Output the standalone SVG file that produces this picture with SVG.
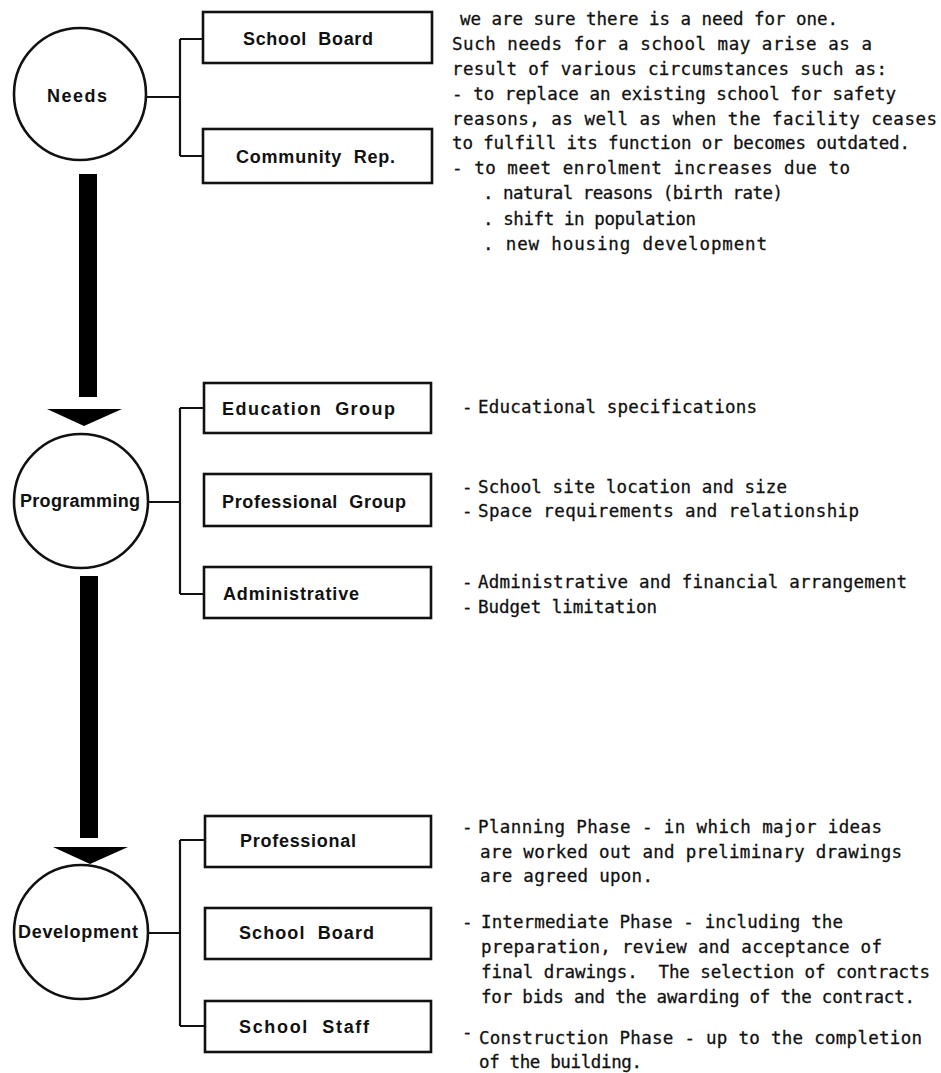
<svg xmlns="http://www.w3.org/2000/svg" width="941" height="1073" viewBox="0 0 941 1073">
<style>
.circ{fill:#fff;stroke:#111;stroke-width:2.6}
.box{fill:#fff;stroke:#111;stroke-width:2.6}
.lbl{font-family:"Liberation Sans",Arial,sans-serif;font-weight:bold;font-size:18px;fill:#111;white-space:pre}
.txt{font-family:"DejaVu Sans Mono","Liberation Mono",monospace;font-size:17.5px;fill:#111;stroke:#111;stroke-width:0.3;white-space:pre}
.conn{fill:none;stroke:#111;stroke-width:2.2}
.bar{fill:#000}
</style>
<rect width="941" height="1073" fill="#fff"/>
<g id="connectors">
  <path class="conn" d="M147,97 H180 M180,39 V156 M180,39 H203 M180,156 H203"/>
  <path class="conn" d="M147,502 H180 M180,408 V594 M180,408 H204 M180,594 H204"/>
  <path class="conn" d="M147,933 H180 M180,840 V1026 M180,840 H205 M180,1026 H205"/>
  <rect class="bar" x="79" y="174" width="18" height="223"/>
  <polygon class="bar" points="47,409 122,409 84,426"/>
  <rect class="bar" x="80" y="576" width="18" height="262"/>
  <polygon class="bar" points="53,847 128,847 90,864"/>
</g>
<g id="needs">
  <circle class="circ" cx="80" cy="94" r="66"/>
  <text class="lbl" x="47" y="102" textLength="60">Needs</text>
</g>
<g id="needs-school-board">
  <rect class="box" x="203" y="12" width="229" height="51"/>
  <text class="lbl" x="243" y="45" textLength="130">School  Board</text>
</g>
<g id="needs-community-rep">
  <rect class="box" x="203" y="129" width="229" height="54"/>
  <text class="lbl" x="236" y="163" textLength="159">Community  Rep.</text>
</g>
<g id="needs-notes">
  <text class="txt" x="460" y="25" textLength="378">we are sure there is a need for one.</text>
  <text class="txt" x="452" y="50" textLength="420">Such needs for a school may arise as a</text>
  <text class="txt" x="452" y="75" textLength="435">result of various circumstances such as:</text>
  <text class="txt" x="452" y="100" textLength="444">- to replace an existing school for safety</text>
  <text class="txt" x="452" y="125" textLength="485">reasons, as well as when the facility ceases</text>
  <text class="txt" x="452" y="149" textLength="458">to fulfill its function or becomes outdated.</text>
  <text class="txt" x="452" y="174" textLength="398">- to meet enrolment increases due to</text>
  <text class="txt" x="483" y="199" textLength="300">. natural reasons (birth rate)</text>
  <text class="txt" x="483" y="225" textLength="213">. shift in population</text>
  <text class="txt" x="483" y="250" textLength="284">. new housing development</text>
</g>
<g id="programming">
  <circle class="circ" cx="81" cy="501" r="67"/>
  <text class="lbl" x="20" y="507" textLength="120">Programming</text>
</g>
<g id="education-group">
  <rect class="box" x="204" y="383" width="227" height="50"/>
  <text class="lbl" x="222" y="415" textLength="173">Education  Group</text>
</g>
<g id="professional-group">
  <rect class="box" x="204" y="474" width="227" height="52"/>
  <text class="lbl" x="222" y="508" textLength="184">Professional  Group</text>
</g>
<g id="administrative">
  <rect class="box" x="204" y="567" width="227" height="51"/>
  <text class="lbl" x="223" y="600" textLength="136">Administrative</text>
</g>
<g id="programming-notes">
  <text class="txt" x="462" y="413">-</text>
  <text class="txt" x="478" y="413" textLength="279">Educational specifications</text>
  <text class="txt" x="462" y="493">-</text>
  <text class="txt" x="478" y="493" textLength="309">School site location and size</text>
  <text class="txt" x="462" y="517">-</text>
  <text class="txt" x="478" y="517" textLength="381">Space requirements and relationship</text>
  <text class="txt" x="462" y="588">-</text>
  <text class="txt" x="478" y="588" textLength="429">Administrative and financial arrangement</text>
  <text class="txt" x="462" y="613">-</text>
  <text class="txt" x="478" y="613" textLength="179">Budget limitation</text>
</g>
<g id="development">
  <circle class="circ" cx="81" cy="932" r="67"/>
  <text class="lbl" x="18" y="938" textLength="120">Development</text>
</g>
<g id="dev-professional">
  <rect class="box" x="205" y="816" width="226" height="51"/>
  <text class="lbl" x="240" y="847" textLength="116">Professional</text>
</g>
<g id="dev-school-board">
  <rect class="box" x="205" y="908" width="226" height="51"/>
  <text class="lbl" x="239" y="939" textLength="135">School  Board</text>
</g>
<g id="dev-school-staff">
  <rect class="box" x="205" y="1001" width="226" height="51"/>
  <text class="lbl" x="239" y="1033" textLength="130">School  Staff</text>
</g>
<g id="development-notes">
  <text class="txt" x="462" y="833">-</text>
  <text class="txt" x="478" y="833" textLength="404">Planning Phase - in which major ideas</text>
  <text class="txt" x="480" y="858" textLength="422">are worked out and preliminary drawings</text>
  <text class="txt" x="480" y="882" textLength="173">are agreed upon.</text>
  <text class="txt" x="462" y="928">-</text>
  <text class="txt" x="481" y="928" textLength="362">Intermediate Phase - including the</text>
  <text class="txt" x="481" y="953" textLength="401">preparation, review and acceptance of</text>
  <text class="txt" x="481" y="978" textLength="449">final drawings.  The selection of contracts</text>
  <text class="txt" x="481" y="1003" textLength="434">for bids and the awarding of the contract.</text>
  <text class="txt" x="462" y="1038">-</text>
  <text class="txt" x="479" y="1044" textLength="443">Construction Phase - up to the completion</text>
  <text class="txt" x="479" y="1068" textLength="163">of the building.</text>
</g>
</svg>
